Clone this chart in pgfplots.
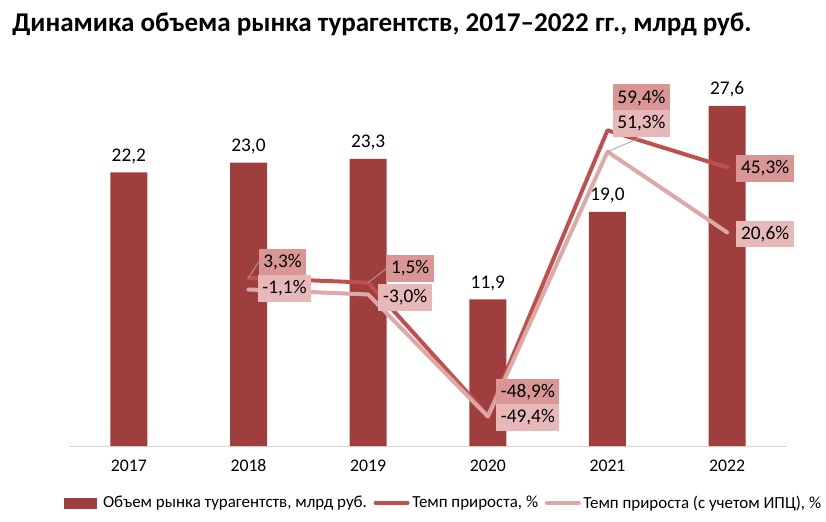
\documentclass[border=0pt]{standalone}
\usepackage{fontspec}
\setmainfont{Carlito}
\usepackage{pgfplots}
\pgfplotsset{compat=1.18}
\usepackage{pgfplotstable}

\definecolor{barc}{HTML}{9E3F3D}
\definecolor{redl}{HTML}{C0504D}
\definecolor{pinkl}{HTML}{DDA8A7}
\definecolor{redbox}{HTML}{D99694}
\definecolor{pinkbox}{HTML}{E6B9B8}
\definecolor{axisgray}{HTML}{D9D9D9}
\definecolor{leader}{HTML}{A6A6A6}

\pgfplotstableread{
x y
0 22.2
1 23.0
2 23.3
3 11.9
4 19.0
5 27.6
}\bars

\pgfplotstableread{
x y dx dy
1 3.3 25.5 11.6
2 1.5 31.5 10.5
3 -48.9 30 17.3
4 59.4 25.5 24.4
5 45.3 28.5 -0.75
}\redt

\pgfplotstableread{
x y dx dy
1 -1.1 27 0.75
2 -3.0 27.75 -2.25
3 -49.4 30 -0.75
4 51.3 25.5 21
5 20.6 28.5 -1.1
}\pinkt

\pgfplotstableread{
x y u v
1 3.3 0.084 6.1
2 1.5 0.15 5.3
3 -48.9 0.084 8.7
4 51.3 0.276 5.3
}\leaders

\begin{document}
\begin{tikzpicture}[x=1pt,y=1pt]
\path[use as bounding box] (0,0) rectangle (619.5,391.5);
\node[anchor=base west, inner sep=0pt, font=\bfseries\fontsize{20.3}{23}\selectfont] at (9,367.5) {Динамика объема рынка турагентств, 2017–2022 гг., млрд руб.};

\begin{axis}[
  at={(51.75pt,57pt)}, anchor=south west,
  width=538.5pt, height=277.2pt, scale only axis,
  xmin=-0.5, xmax=5.5, ymin=0, ymax=30,
  axis x line*=bottom, axis y line=none,
  x axis line style={draw=axisgray, line width=0.75pt, -},
  xtick={0,1,2,3,4,5},
  xticklabels={2017,2018,2019,2020,2021,2022},
  xtick style={draw=none},
  x tick label style={font=\fontsize{13.3}{15}\selectfont, yshift=-19pt, anchor=base, text depth=0pt},
  /pgf/number format/assume math mode=true,
  ytick=\empty,
  clip=false,
]
\addplot[ybar, bar width=27.75pt, fill=barc, draw=none,
  nodes near coords={\pgfmathprintnumber[fixed, fixed zerofill, precision=1, use comma]{\pgfplotspointmeta}},
  every node near coord/.append style={font=\fontsize{14.5}{16}\selectfont, text=black, yshift=3pt},
  point meta=explicit] table[x=x, y=y, meta=y] {\bars};
\end{axis}

\begin{axis}[
  at={(51.75pt,57pt)}, anchor=south west,
  width=538.5pt, height=277.2pt, scale only axis,
  xmin=-0.5, xmax=5.5, ymin=-60.6, ymax=79.9,
  axis lines=none, xtick=\empty, ytick=\empty,
  clip=false,
  /pgf/number format/assume math mode=true,
  legend style={at={(0.522,-0.154)}, anchor=center, draw=none, fill=none,
    font=\fontsize{12.7}{14}\selectfont, legend columns=3,
    /tikz/every even column/.append style={column sep=3pt},
    inner sep=0pt},
  legend cell align=left,
]
\addlegendimage{legend image code/.code={\fill[barc] (0pt,-3.75pt) rectangle (24pt,3.75pt); \path (27pt,0pt);}}
\addlegendentry{Объем рынка турагентств, млрд руб.}

\addplot[redl, line width=3pt, line cap=round, line join=round, mark=none,
  legend image code/.code={\draw[redl, line width=3pt, line cap=round] (0pt,0pt) -- (24pt,0pt);},
  visualization depends on={\thisrow{dx} \as \dx},
  visualization depends on={\thisrow{dy} \as \dy},
  nodes near coords={\pgfmathprintnumber[fixed, fixed zerofill, precision=1, use comma]{\pgfplotspointmeta}\%},
  every node near coord/.append style={font=\fontsize{14.5}{16}\selectfont, text=black, fill=redbox,
    anchor=center, xshift=\dx pt, yshift=\dy pt, inner xsep=3.5pt, minimum height=20pt},
  point meta=explicit] table[x=x, y=y, meta=y] {\redt};
\addlegendentry{Темп прироста, \%}

\addplot[pinkl, line width=3pt, line cap=round, line join=round, mark=none,
  legend image code/.code={\draw[pinkl, line width=3pt, line cap=round] (0pt,0pt) -- (24pt,0pt);},
  visualization depends on={\thisrow{dx} \as \dx},
  visualization depends on={\thisrow{dy} \as \dy},
  nodes near coords={\pgfmathprintnumber[fixed, fixed zerofill, precision=1, use comma]{\pgfplotspointmeta}\%},
  every node near coord/.append style={font=\fontsize{14.5}{16}\selectfont, text=black, fill=pinkbox,
    anchor=center, xshift=\dx pt, yshift=\dy pt, inner xsep=3.5pt, minimum height=20pt},
  point meta=explicit] table[x=x, y=y, meta=y] {\pinkt};
\addlegendentry{Темп прироста (с учетом ИПЦ), \%}

\addplot[forget plot, leader, line width=0.6pt, mark=none,
  quiver={u=\thisrow{u}, v=\thisrow{v}}] table[x=x, y=y] {\leaders};
\end{axis}
\end{tikzpicture}
\end{document}
